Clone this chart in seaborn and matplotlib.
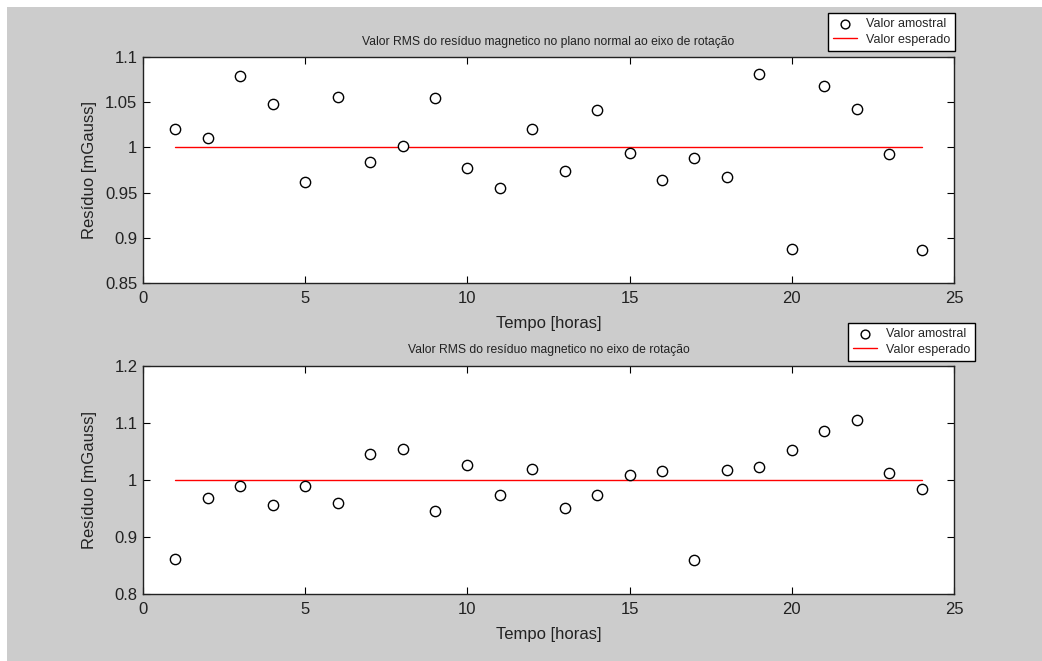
import matplotlib
matplotlib.use("Agg")
import matplotlib.pyplot as plt
import seaborn as sns
import pandas as pd
from matplotlib.patches import Rectangle

sns.set_style("ticks")
plt.rcParams['font.family'] = ['Liberation Sans', 'DejaVu Sans']

horas = list(range(1, 25))
residuo_plano = [1.020, 1.010, 1.079, 1.048, 0.962, 1.056, 0.984, 1.001, 1.055, 0.977,
                 0.955, 1.020, 0.974, 1.041, 0.994, 0.964, 0.988, 0.967, 1.081, 0.888,
                 1.068, 1.043, 0.993, 0.887]
residuo_eixo = [0.861, 0.969, 0.990, 0.956, 0.990, 0.960, 1.045, 1.054, 0.946, 1.027,
                0.974, 1.020, 0.951, 0.974, 1.009, 1.015, 0.860, 1.018, 1.022, 1.052,
                1.086, 1.105, 1.013, 0.985]
esperado_x = [1, 24]
esperado_y = [1.0, 1.0]

titles = ["Valor RMS do resíduo magnetico no plano normal ao eixo de rotação",
          "Valor RMS do resíduo magnetico no eixo de rotação"]
ylims = [(0.85, 1.1), (0.8, 1.2)]
yticks = [[0.85, 0.9, 0.95, 1.0, 1.05, 1.1], [0.8, 0.9, 1.0, 1.1, 1.2]]
yticklabels = [["0.85", "0.9", "0.95", "1", "1.05", "1.1"], ["0.8", "0.9", "1", "1.1", "1.2"]]
xticks = [0, 5, 10, 15, 20, 25]
series = [residuo_plano, residuo_eixo]

W, H = 1042, 661
fig = plt.figure(figsize=(W / 100, H / 100), dpi=100, facecolor="white")
fig.patches.append(Rectangle((7 / W, 0), 1 - 7 / W, 1 - 7 / H, transform=fig.transFigure,
                             facecolor="#cccccc", edgecolor="none", zorder=-10))

axes_px = [(143, 57, 954, 283), (143, 366, 954, 594)]
legend_anchor = [(955, 13), (975, 323)]

for i in range(2):
    l, t, r, b = axes_px[i]
    ax = fig.add_axes([l / W, 1 - b / H, (r - l) / W, (b - t) / H])
    ax.set_facecolor("white")
    df = pd.DataFrame({"Tempo": horas, "Residuo": series[i]})
    sns.scatterplot(data=df, x="Tempo", y="Residuo", ax=ax, marker="o", s=55,
                    facecolor="white", edgecolor="black", linewidth=1.0,
                    label="Valor amostral", zorder=3)
    dl = pd.DataFrame({"x": esperado_x, "y": esperado_y})
    sns.lineplot(data=dl, x="x", y="y", ax=ax, color="red", linewidth=1.0,
                 label="Valor esperado", zorder=2)
    ax.set_xlim(0, 25)
    ax.set_ylim(*ylims[i])
    ax.set_xticks(xticks)
    ax.set_xticklabels([str(v) for v in xticks])
    ax.set_yticks(yticks[i])
    ax.set_yticklabels(yticklabels[i])
    ax.tick_params(direction="in", top=True, right=True, length=5, width=0.8,
                   labelsize=12, colors="black", labelcolor="#222222")
    ax.tick_params(axis="x", pad=6)
    ax.tick_params(axis="y", pad=4)
    for sp in ax.spines.values():
        sp.set_visible(True)
        sp.set_linewidth(1.0)
        sp.set_color("#222222")
    ax.set_xlabel("Tempo [horas]", fontsize=12, labelpad=7, color="#222222")
    ax.set_ylabel("Resíduo [mGauss]", fontsize=12, color="#222222")
    ax.yaxis.set_label_coords((97 - l) / (r - l), 0.5)
    ax.set_title(titles[i], fontsize=8.7, pad=9, color="#222222")
    ax.grid(False)
    ax_, ay_ = legend_anchor[i]
    leg = ax.legend(loc="upper right", bbox_to_anchor=(ax_ / W, 1 - ay_ / H),
                    bbox_transform=fig.transFigure, fontsize=9, frameon=True,
                    fancybox=False, edgecolor="black", framealpha=1, borderpad=0.4,
                    labelspacing=0.3, handlelength=1.9, handletextpad=0.7,
                    borderaxespad=0)
    leg.get_frame().set_linewidth(1.0)
    try:
        leg.legend_handles[0].set_sizes([40])
    except Exception:
        pass

fig.savefig("out.png", dpi=100, facecolor=fig.get_facecolor())
